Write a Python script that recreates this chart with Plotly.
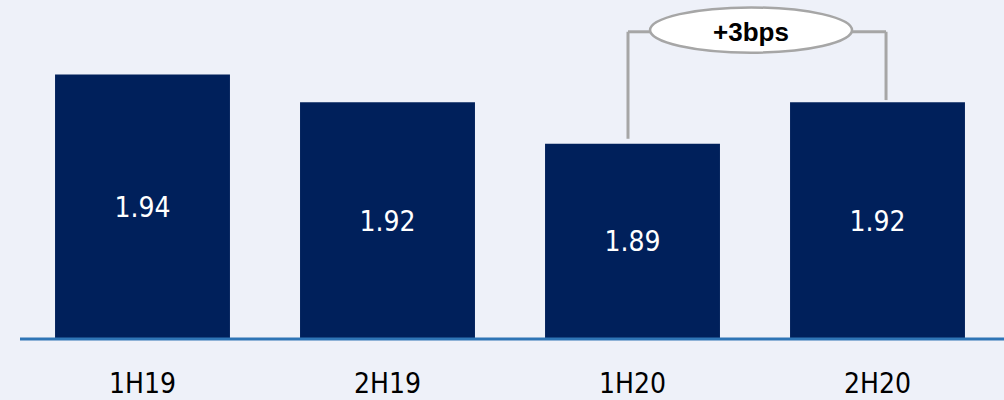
import plotly.graph_objects as go

categories = ["1H19", "2H19", "1H20", "2H20"]
values = [1.94, 1.92, 1.89, 1.92]
change_label = "+3bps"

BG = "#EEF1F9"
BAR = "#00205B"
GRAY = "#A6A6A6"
AXIS_BLUE = "#2E75B6"
FONT = "DejaVu Sans Condensed, DejaVu Sans, Arial"

y_min = 1.7486
y_max = 1.9936

fig = go.Figure()
fig.add_trace(go.Bar(
    x=categories,
    y=[v - y_min for v in values],
    base=y_min,
    width=0.714,
    marker=dict(color=BAR, line=dict(width=0)),
    text=[f"{v:.2f}" for v in values],
    textposition="inside",
    insidetextanchor="middle",
    textfont=dict(color="white", size=28, family=FONT),
    hoverinfo="skip",
))

top_y = 1.9707
shapes = [
    # baseline
    dict(type="line", xref="paper", yref="paper", x0=0, x1=1.005, y0=0.003, y1=0.003,
         line=dict(color=AXIS_BLUE, width=3), layer="above"),
    # left bracket
    dict(type="line", xref="paper", yref="y", x0=0.6204, x1=0.6204, y0=values[2] + 0.0036, y1=top_y,
         line=dict(color=GRAY, width=3)),
    dict(type="line", xref="paper", yref="y", x0=0.6204, x1=0.6449, y0=top_y, y1=top_y,
         line=dict(color=GRAY, width=3)),
    # right bracket
    dict(type="line", xref="paper", yref="y", x0=0.8469, x1=0.8837, y0=top_y, y1=top_y,
         line=dict(color=GRAY, width=3)),
    dict(type="line", xref="paper", yref="y", x0=0.8837, x1=0.8837, y0=values[3] + 0.0015, y1=top_y,
         line=dict(color=GRAY, width=3)),
    # ellipse
    dict(type="circle", xref="paper", yref="paper", x0=0.6429, x1=0.849, y0=0.845, y1=0.978,
         fillcolor="white", line=dict(color=GRAY, width=2.5), layer="above"),
]

fig.update_layout(
    width=1004, height=400,
    margin=dict(l=20, r=4, t=0, b=57),
    paper_bgcolor=BG, plot_bgcolor=BG,
    showlegend=False,
    shapes=shapes,
    annotations=[dict(
        xref="paper", yref="y", x=0.7459, y=top_y, text=f"<b>{change_label}</b>",
        showarrow=False, font=dict(color="black", size=26, family="Liberation Sans, Arial"),
        xanchor="center", yanchor="middle",
    )],
    xaxis=dict(
        showgrid=False, zeroline=False, showline=False,
        ticks="outside", ticklen=18, tickcolor=BG,
        tickfont=dict(color="black", size=28, family=FONT),
        range=[-0.5, 3.5],
    ),
    yaxis=dict(
        range=[y_min, y_max], showgrid=False, zeroline=False, showline=False,
        showticklabels=False, ticks="",
    ),
)

fig.write_html("out.html")
